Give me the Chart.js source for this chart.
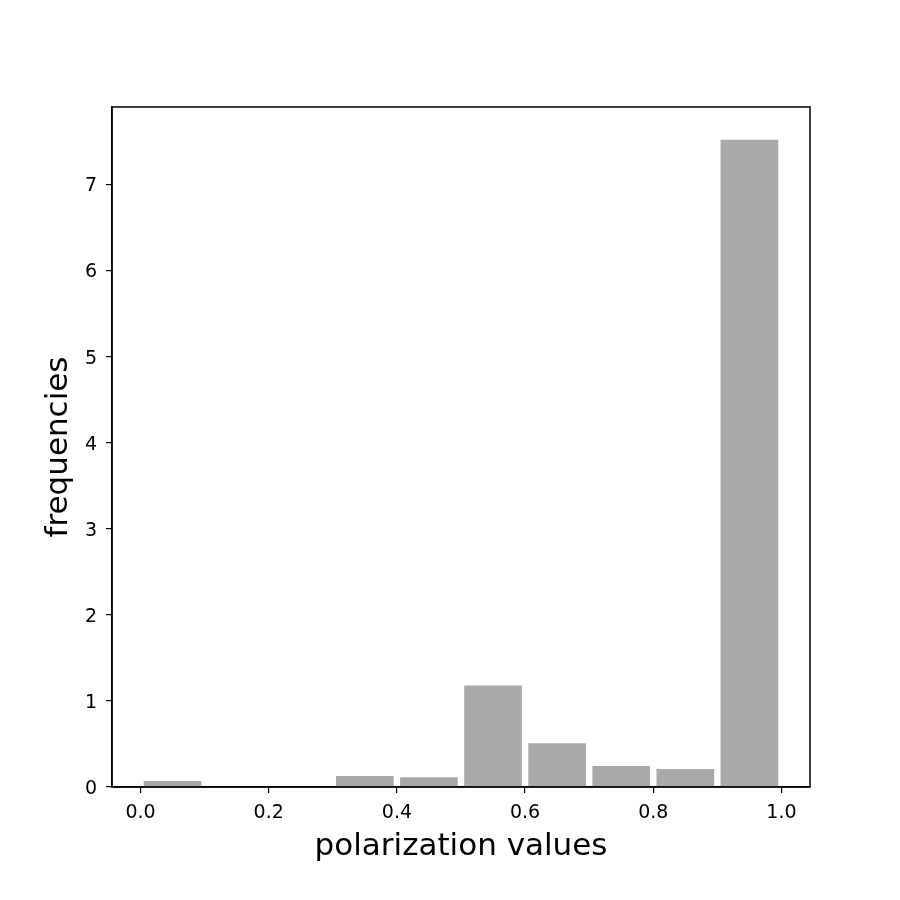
<!DOCTYPE html>
<html>
<head>
<meta charset="utf-8">
<script src="https://cdn.jsdelivr.net/npm/chart.js@4/dist/chart.umd.min.js"></script>
<style>
html, body { margin: 0; padding: 0; background: #fff; }
#wrap { width: 900px; height: 900px; }
</style>
</head>
<body>
<div id="wrap"><canvas id="chart" width="900" height="900"></canvas></div>
<script>
// histogram bins (centres) and density values
const binCentres = [0.05, 0.15, 0.25, 0.35, 0.45, 0.55, 0.65, 0.75, 0.85, 0.95];
const densities = [0.07, 0, 0, 0.128, 0.113, 1.178, 0.508, 0.244, 0.209, 7.52];
const xTicks = [0.0, 0.2, 0.4, 0.6, 0.8, 1.0];
const yTicks = [0, 1, 2, 3, 4, 5, 6, 7];

const font = 'DejaVu Sans';

// matplotlib style box round the plot area
const frame = {
  id: 'frame',
  afterDraw(chart) {
    const { ctx, chartArea: a } = chart;
    ctx.save();
    ctx.strokeStyle = '#000';
    ctx.lineWidth = 1.5;
    ctx.strokeRect(a.left, a.top, a.right - a.left, a.bottom - a.top);
    ctx.restore();
  }
};

new Chart(document.getElementById('chart'), {
  type: 'bar',
  data: {
    datasets: [{
      data: binCentres.map((x, i) => ({ x: x, y: densities[i] })),
      backgroundColor: '#a9a9a9',
      borderWidth: 0,
      categoryPercentage: 1,
      barPercentage: 0.9
    }]
  },
  options: {
    responsive: false,
    animation: false,
    layout: { padding: { left: 0, right: 90, top: 107, bottom: 0 } },
    plugins: { legend: { display: false }, tooltip: { enabled: false } },
    scales: {
      x: {
        type: 'linear',
        offset: false,
        min: -0.0445,
        max: 1.0445,
        afterBuildTicks: s => { s.ticks = xTicks.map(v => ({ value: v })); },
        afterFit: s => { s.height = 113; },
        ticks: {
          callback: v => v.toFixed(1),
          color: '#000',
          font: { family: font, size: 19 },
          padding: 9,
          maxRotation: 0
        },
        grid: { display: true, offset: false, drawOnChartArea: false, drawTicks: true, tickLength: 6, color: '#000', lineWidth: 1.2 },
        border: { display: true, color: '#000', width: 1.5 },
        title: {
          display: true,
          text: 'polarization values',
          color: '#000',
          font: { family: font, size: 31 },
          padding: { top: 0, bottom: 34 }
        }
      },
      y: {
        min: 0,
        max: 7.9,
        afterBuildTicks: s => { s.ticks = yTicks.map(v => ({ value: v })); },
        afterFit: s => { s.width = 112; },
        ticks: {
          color: '#000',
          font: { family: font, size: 19 },
          padding: 9,
          labelOffset: 2
        },
        grid: { display: true, offset: false, drawOnChartArea: false, drawTicks: true, tickLength: 6, color: '#000', lineWidth: 1.2 },
        border: { display: true, color: '#000', width: 1.5 },
        title: {
          display: true,
          text: 'frequencies',
          color: '#000',
          font: { family: font, size: 31 },
          padding: { top: 40, bottom: 0 }
        }
      }
    }
  },
  plugins: [frame]
});
</script>
</body>
</html>
